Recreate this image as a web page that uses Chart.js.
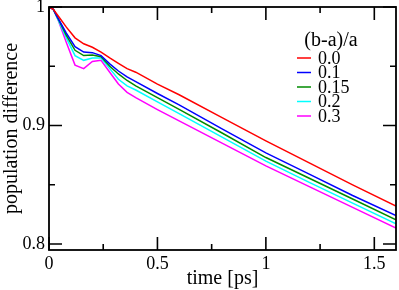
<!DOCTYPE html>
<html>
<head>
<meta charset="utf-8">
<script src="https://cdn.jsdelivr.net/npm/chart.js@4.4.1/dist/chart.umd.min.js"></script>
<style>
  html, body { margin: 0; padding: 0; background: #fff; }
  #wrap { width: 399px; height: 290px; }
</style>
</head>
<body>
<div id="wrap"><canvas id="grafico"></canvas></div>
<script>
// datos
const tiempos = [0, 0.02, 0.04, 0.08, 0.12, 0.16, 0.2, 0.24, 0.28, 0.32, 0.36, 0.4,
                 0.5, 0.6, 0.8, 1.0, 1.2, 1.4, 1.6];
const serie00  = [1, 0.998, 0.993, 0.983, 0.974, 0.969, 0.966, 0.962, 0.957, 0.9525, 0.948, 0.945,
                  0.935, 0.926, 0.9065, 0.887, 0.8685, 0.850, 0.832];
const serie01  = [1, 0.998, 0.991, 0.978, 0.9665, 0.962, 0.9615, 0.959, 0.952, 0.946, 0.941, 0.937,
                  0.927, 0.9175, 0.897, 0.877, 0.859, 0.841, 0.824];
const serie015 = [1, 0.998, 0.991, 0.976, 0.9635, 0.959, 0.9595, 0.958, 0.950, 0.9435, 0.938, 0.9335,
                  0.9235, 0.9137, 0.8935, 0.873, 0.8555, 0.838, 0.8205];
const serie02  = [1, 0.998, 0.990, 0.974, 0.959, 0.955, 0.957, 0.957, 0.948, 0.939, 0.9335, 0.930,
                  0.920, 0.910, 0.890, 0.870, 0.852, 0.8345, 0.817];
const serie03  = [1, 0.998, 0.990, 0.970, 0.951, 0.948, 0.954, 0.955, 0.945, 0.935, 0.928, 0.9235,
                  0.9135, 0.904, 0.885, 0.866, 0.8485, 0.831, 0.8135];

const etiquetasSerie = ['0.0', '0.1', '0.15', '0.2', '0.3'];
const tituloLeyenda = '(b-a)/a';

const xTicks = [0, 0.5, 1, 1.5];
const xTickLabels = ['0', '0.5', '1', '1.5'];
const xMinor = [0.25, 0.75, 1.25];
const yTicks = [0.8, 0.9, 1.0];
const yTickLabels = ['0.8', '0.9', '1'];
const yMinor = [0.85, 0.95];

const colores = ['#ff0000', '#0000ff', '#008b00', '#00ffff', '#ff00ff'];
const fuente = "'Times New Roman', 'DejaVu Serif', serif";

function puntos(valores) {
    return tiempos.map((t, i) => ({ x: t, y: valores[i] }));
}

// marcas hacia dentro en los cuatro lados + marco
const marcoPlugin = {
    id: 'marco',
    afterDatasetsDraw(chart) {
        const { ctx, chartArea: a, scales } = chart;
        const x = scales.x, y = scales.y;
        ctx.save();
        ctx.strokeStyle = '#000';
        ctx.lineWidth = 1.6;
        ctx.beginPath();
        const marca = (px, largo, vertical) => {
            if (vertical) {
                ctx.moveTo(px, a.bottom); ctx.lineTo(px, a.bottom - largo);
                ctx.moveTo(px, a.top); ctx.lineTo(px, a.top + largo);
            } else {
                ctx.moveTo(a.left, px); ctx.lineTo(a.left + largo, px);
                ctx.moveTo(a.right, px); ctx.lineTo(a.right - largo, px);
            }
        };
        xTicks.forEach(v => marca(x.getPixelForValue(v), 13, true));
        xMinor.forEach(v => marca(x.getPixelForValue(v), 6, true));
        yTicks.forEach(v => marca(y.getPixelForValue(v), 13, false));
        yMinor.forEach(v => marca(y.getPixelForValue(v), 6, false));
        ctx.stroke();
        ctx.lineWidth = 1.8;
        ctx.strokeRect(a.left, a.top, a.right - a.left, a.bottom - a.top);
        ctx.restore();
    }
};

const leyendaPlugin = {
    id: 'leyenda',
    afterDraw(chart) {
        const ctx = chart.ctx;
        ctx.save();
        ctx.fillStyle = '#000';
        ctx.textBaseline = 'middle';
        ctx.textAlign = 'center';
        ctx.font = '20px ' + fuente;
        ctx.fillText(tituloLeyenda, 331, 41);
        ctx.textAlign = 'left';
        ctx.font = '18px ' + fuente;
        chart.data.datasets.forEach((ds, i) => {
            const yy = 58 + i * 14.5;
            ctx.strokeStyle = ds.borderColor;
            ctx.lineWidth = 1.5;
            ctx.beginPath();
            ctx.moveTo(297, yy); ctx.lineTo(311, yy);
            ctx.stroke();
            ctx.fillText(ds.label, 318, yy + 1);
        });
        ctx.restore();
    }
};

function inicializarGrafico(canvasId) {
    const series = [serie00, serie01, serie015, serie02, serie03];
    const data = {
        datasets: series.map((s, i) => ({
            label: etiquetasSerie[i],
            data: puntos(s),
            borderColor: colores[i],
            backgroundColor: colores[i],
            borderWidth: 1.5,
            pointRadius: 0,
            tension: 0,
            fill: false
        }))
    };
    const canvas = document.getElementById(canvasId);
    new Chart(canvas, {
        type: 'line',
        data: data,
        plugins: [marcoPlugin, leyendaPlugin],
        options: {
            responsive: true,
            maintainAspectRatio: false,
            animation: false,
            layout: { padding: { top: 7, right: 3, left: 0, bottom: 0 } },
            plugins: { legend: { display: false }, tooltip: { enabled: false } },
            scales: {
                x: {
                    type: 'linear',
                    min: 0,
                    max: 1.6,
                    grid: { display: false, drawTicks: false },
                    border: { display: false },
                    afterBuildTicks: s => { s.ticks = xTicks.map(v => ({ value: v })); },
                    afterFit: s => { s.height = 40; s.paddingLeft = 0; s.paddingRight = 0; },
                    ticks: {
                        callback: (v, i) => xTickLabels[i],
                        color: '#000',
                        padding: 3,
                        maxRotation: 0,
                        font: { family: fuente, size: 18 }
                    },
                    title: {
                        display: true,
                        text: 'time [ps]',
                        color: '#000',
                        padding: 0,
                        font: { family: fuente, size: 20, lineHeight: 1.1 }
                    }
                },
                y: {
                    min: 0.795,
                    max: 1.0,
                    grid: { display: false, drawTicks: false },
                    border: { display: false },
                    afterBuildTicks: s => { s.ticks = yTicks.map(v => ({ value: v })); },
                    afterFit: s => { s.width = 49; s.paddingTop = 0; s.paddingBottom = 0; },
                    ticks: {
                        callback: (v, i) => yTickLabels[i],
                        color: '#000',
                        padding: 4,
                        font: { family: fuente, size: 18 }
                    },
                    title: {
                        display: true,
                        text: 'population difference',
                        color: '#000',
                        padding: 0,
                        font: { family: fuente, size: 20 }
                    }
                }
            }
        }
    });
}

document.addEventListener('DOMContentLoaded', () => {
    inicializarGrafico('grafico');
});
</script>
</body>
</html>
